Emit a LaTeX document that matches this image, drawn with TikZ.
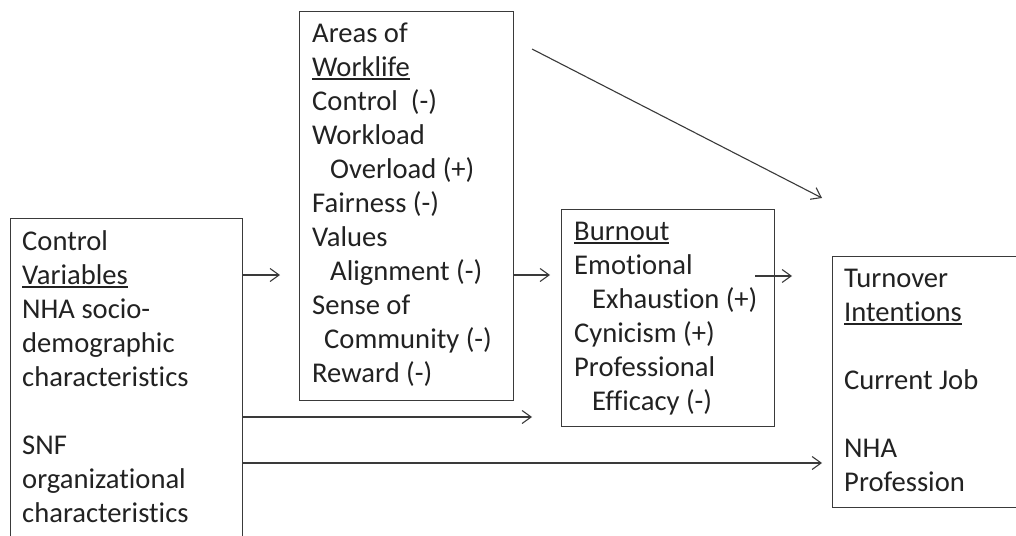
\documentclass[tikz,border=0pt]{standalone}
\usepackage{fontspec}
\setmainfont{Carlito}[Ligatures=NoCommon]
\usetikzlibrary{arrows.meta}
\definecolor{ink}{HTML}{222222}
\definecolor{linec}{HTML}{3A3A3A}
\newcommand\blk[1]{\vtop{\baselineskip=34pt\lineskiplimit=-1000pt\halign{##\hfil\cr #1\cr}}}
\newcommand\uln[1]{\setbox0\hbox{#1}\rlap{\rule[-4pt]{\wd0}{2pt}}\box0}
\newcommand\ind[1]{\kern#1pt}
\begin{document}
\begin{tikzpicture}[x=1pt,y=-1pt,
  box/.style={draw=linec, line width=1.3pt, rectangle, inner sep=0pt, anchor=north west},
  txt/.style={anchor=base west, inner sep=0pt, text=ink, font=\fontsize{28.6}{34}\selectfont},
  arr/.style={draw=linec, line width=1.1pt, -{Straight Barb[length=9pt,width=13pt,line width=1.1pt]}}]
\useasboundingbox (0,0) rectangle (1016,535);
\clip (0,0) rectangle (1016,535);
\fill[white] (0,0) rectangle (1016,535);
% boxes
\node[box, minimum width=232pt, minimum height=340pt] (ctrl) at (10,218) {};
\node[box, minimum width=214pt, minimum height=389pt] (areas) at (299,11) {};
\node[box, minimum width=213pt, minimum height=217pt] (burn) at (561,209) {};
\node[box, minimum width=200pt, minimum height=251pt] (turn) at (832,256) {};
% texts
\node[txt] (ctrlT) at (22,250) {\blk{Control\cr \uln{Variables}\cr NHA socio-\cr demographic\cr characteristics\cr \cr SNF\cr organizational\cr characteristics}};
\node[txt] (areasT) at (312,42) {\blk{Areas of\cr \uln{Worklife}\cr Control\ \ (-)\cr Workload\cr \ind{18}Overload (+)\cr Fairness (-)\cr Values\cr \ind{18}Alignment (-)\cr Sense of\cr \ind{12}Community (-)\cr Reward (-)}};
\node[txt] (burnT) at (574,240) {\blk{\uln{Burnout}\cr Emotional\cr \ind{18}Exhaustion (+)\cr Cynicism (+)\cr Professional\cr \ind{18}Efficacy (-)}};
\node[txt] (turnT) at (844,287) {\blk{Turnover\cr \uln{Intentions}\cr \cr Current Job\cr \cr NHA\cr Profession}};
% connector ends
\coordinate (a1) at (280,275);
\coordinate (a2) at (550,275);
\coordinate (a3) at (532,417);
\coordinate (a4) at (822,463);
\coordinate (s5) at (755,276);
\coordinate (a5) at (792,276);
\coordinate (s6) at (532,49);
\coordinate (a6) at (822,198);
% connectors
\draw[arr] (ctrl.east |- a1) -- (a1);
\draw[arr] (areas.east |- a2) -- (a2);
\draw[arr] (ctrl.east |- a3) -- (a3);
\draw[arr] (ctrl.east |- a4) -- (a4);
\draw[arr] (s5) -- (a5);
\draw[arr] (s6) -- (a6);
\end{tikzpicture}
\end{document}
